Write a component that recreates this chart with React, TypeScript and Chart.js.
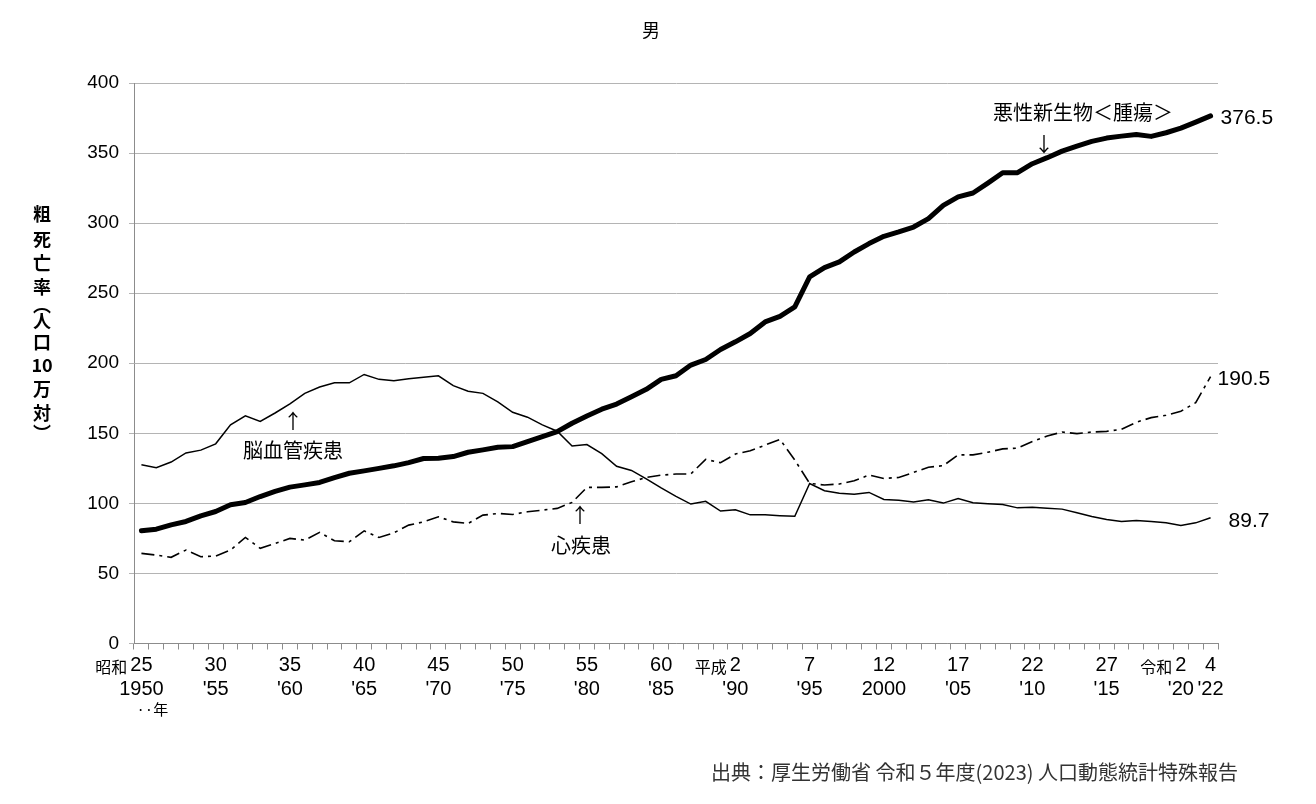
import React, { useEffect, useRef } from 'react';
import { Chart, registerables } from 'chart.js';

Chart.register(...registerables);

const years = [
  '1950', '1951', '1952', '1953', '1954', '1955', '1956', '1957', '1958', '1959',
  '1960', '1961', '1962', '1963', '1964', '1965', '1966', '1967', '1968', '1969',
  '1970', '1971', '1972', '1973', '1974', '1975', '1976', '1977', '1978', '1979',
  '1980', '1981', '1982', '1983', '1984', '1985', '1986', '1987', '1988', '1989',
  '1990', '1991', '1992', '1993', '1994', '1995', '1996', '1997', '1998', '1999',
  '2000', '2001', '2002', '2003', '2004', '2005', '2006', '2007', '2008', '2009',
  '2010', '2011', '2012', '2013', '2014', '2015', '2016', '2017', '2018', '2019',
  '2020', '2021', '2022',
];

// 悪性新生物＜腫瘍＞
const cancerRates = [
  80.4, 81.6, 84.7, 87.1, 91.1, 94.2, 99.0, 100.6, 104.9, 108.5,
  111.6, 113.2, 114.9, 118.4, 121.5, 123.2, 125.0, 126.8, 129.1, 132.0,
  132.2, 133.4, 136.5, 138.2, 140.1, 140.5, 144.1, 147.6, 151.2, 157.2,
  162.4, 167.2, 170.9, 176.1, 181.4, 188.5, 191.1, 198.7, 202.7, 209.8,
  215.3, 221.2, 229.5, 233.5, 240.2, 261.6, 268.3, 272.3, 279.4, 285.4,
  290.6, 293.7, 297.2, 303.2, 312.7, 318.7, 321.5, 328.6, 336.0, 336.0,
  342.4, 346.7, 351.4, 355.0, 358.3, 360.7, 362.1, 363.3, 361.9, 364.5,
  367.8, 372.1, 376.5,
];

// 脳血管疾患
const cerebroRates = [
  127.5, 125.5, 129.5, 136.0, 138.0, 142.5, 156.0, 162.5, 158.5, 164.5,
  171.0, 178.5, 183.0, 186.0, 186.0, 192.0, 188.5, 187.5, 189.0, 190.0,
  191.0, 184.0, 180.0, 178.5, 172.5, 165.0, 161.5, 156.0, 151.5, 141.0,
  142.0, 135.5, 126.5, 123.5, 117.5, 111.0, 105.0, 99.5, 101.5, 94.5,
  95.5, 91.8, 91.8, 91.2, 90.8, 114.2, 109.0, 107.3, 106.6, 107.8,
  102.8, 102.3, 100.9, 102.5, 100.2, 103.5, 100.4, 99.7, 99.2, 96.8,
  97.3, 96.6, 95.9, 93.3, 90.7, 88.5, 87.1, 87.8, 87.1, 86.1,
  84.2, 86.1, 89.7,
];

// 心疾患
const heartRates = [
  64.3, 63.1, 61.5, 66.7, 61.9, 62.4, 66.7, 75.7, 67.9, 71.4,
  75.0, 73.8, 79.3, 73.3, 72.6, 80.4, 75.7, 79.0, 84.5, 86.8,
  90.4, 86.8, 85.7, 91.6, 92.8, 92.1, 94.0, 95.2, 96.4, 100.7,
  111.4, 111.4, 111.8, 115.4, 118.5, 120.1, 121.0, 121.0, 131.4, 129.0,
  135.2, 137.5, 141.6, 145.7, 130.9, 114.3, 113.1, 113.8, 116.2, 120.2,
  117.8, 118.5, 122.1, 125.8, 126.9, 134.6, 134.6, 136.5, 138.9, 139.4,
  144.1, 148.1, 150.9, 149.8, 150.9, 151.4, 152.9, 157.9, 161.2, 162.9,
  165.7, 171.9, 190.5,
];

// x-axis tick labels
const tickYears = ['1950', '1955', '1960', '1965', '1970', '1975', '1980', '1985', '1990', '1995', '2000', '2005', '2010', '2015', '2020', '2022'];
const eraTickLabels = ['25', '30', '35', '40', '45', '50', '55', '60', '2', '7', '12', '17', '22', '27', '2', '4'];
const westernTickLabels = ['1950', "'55", "'60", "'65", "'70", "'75", "'80", "'85", "'90", "'95", '2000', "'05", "'10", "'15", "'20", "'22"];
const eraStartYears = ['1950', '1990', '2020'];
const eraNames = ['昭和', '平成', '令和'];
const yearUnitLabel = '··年';

const yTicks = { min: 0, max: 400, step: 50 };

const chartTitle = '男';
const yTitleChars = ['粗', '死', '亡', '率', '︵', '人', '口', '10', '万', '対', '︶'];
const seriesNames = ['悪性新生物＜腫瘍＞', '脳血管疾患', '心疾患'];
const sourceText = '出典：厚生労働省 令和５年度(2023) 人口動態統計特殊報告';

const CJK = "'Noto Sans CJK JP', 'Noto Sans', sans-serif";
const NUM = "'Liberation Sans', Arial, sans-serif";
const SANS = "'Liberation Sans', Arial, sans-serif";

const TICK_FONT_SIZE = 20;

const overlayPlugin = {
  id: 'overlay',
  afterDraw(chart: any) {
    const { ctx } = chart;
    const xs = chart.scales.x;
    const ys = chart.scales.y;
    ctx.save();
    ctx.fillStyle = '#000';

    // title
    ctx.font = `18px ${CJK}`;
    ctx.textAlign = 'center';
    ctx.textBaseline = 'middle';
    ctx.fillText(chartTitle, 643, 22);

    // vertical y-axis title
    const yTitlePos = [206, 231, 255, 279.5, 297, 313, 334, 357, 381, 405, 425];
    ctx.font = `bold 18px ${CJK}`;
    yTitleChars.forEach((c, i) => ctx.fillText(c, 34, yTitlePos[i]));

    // series annotations
    ctx.font = `20px ${CJK}`;
    ctx.fillText(seriesNames[0], 1075, 104);
    ctx.fillText('↓', 1036, 136);
    ctx.fillText(seriesNames[1], 285, 442);
    ctx.fillText('↑', 285, 413);
    ctx.fillText(seriesNames[2], 573, 537);
    ctx.fillText('↑', 572, 507);

    // end values
    ctx.font = `${TICK_FONT_SIZE + 1}px ${NUM}`;
    ctx.textAlign = 'left';
    const last = years.length - 1;
    const lx = xs.getPixelForValue(last);
    ctx.fillText(cancerRates[last].toFixed(1), lx + 10, ys.getPixelForValue(cancerRates[last]) + 2);
    ctx.fillText(heartRates[last].toFixed(1), lx + 7, ys.getPixelForValue(heartRates[last]) + 3);
    ctx.fillText(cerebroRates[last].toFixed(1), lx + 18, ys.getPixelForValue(cerebroRates[last]) + 3);

    // era prefixes on the x axis
    eraStartYears.forEach((yr, i) => {
      const idx = years.indexOf(yr);
      const k = tickYears.indexOf(yr);
      const px = xs.getPixelForValue(idx);
      ctx.font = `${TICK_FONT_SIZE}px ${NUM}`;
      const w = ctx.measureText(eraTickLabels[k]).width;
      ctx.font = `16px ${CJK}`;
      ctx.textAlign = 'right';
      ctx.textBaseline = 'alphabetic';
      ctx.fillText(eraNames[i], px - w / 2 - 3, xs.top + 29);
    });

    // year unit
    ctx.font = `15px ${CJK}`;
    ctx.textAlign = 'left';
    ctx.textBaseline = 'middle';
    ctx.fillText(yearUnitLabel, xs.getPixelForValue(0) - 5, xs.top + 66);

    // source
    ctx.font = `20px ${CJK}`;
    ctx.fillStyle = '#333';
    ctx.textAlign = 'right';
    ctx.fillText(sourceText, 1230, 764);
    ctx.restore();
  },
};

export default function App() {
  const canvasRef = useRef<HTMLCanvasElement | null>(null);

  useEffect(() => {
    if (!canvasRef.current) return;
    const chart = new Chart(canvasRef.current, {
      type: 'line',
      data: {
        labels: years,
        datasets: [
          {
            label: seriesNames[0],
            data: cancerRates,
            borderColor: '#000',
            borderWidth: 5,
            borderJoinStyle: 'round',
            borderCapStyle: 'round',
            pointRadius: 0,
            fill: false,
          },
          {
            label: seriesNames[1],
            data: cerebroRates,
            borderColor: '#000',
            borderWidth: 1.5,
            pointRadius: 0,
            fill: false,
          },
          {
            label: seriesNames[2],
            data: heartRates,
            borderColor: '#000',
            borderWidth: 1.6,
            borderDash: [13, 5, 3, 5],
            pointRadius: 0,
            fill: false,
          },
        ],
      },
      options: {
        responsive: false,
        animation: false,
        devicePixelRatio: 1,
        layout: { padding: { left: 0, right: 90, top: 75, bottom: 82.5 } },
        plugins: {
          legend: { display: false },
          title: { display: false },
          tooltip: { enabled: false },
        },
        elements: { line: { tension: 0 }, point: { radius: 0 } },
        scales: {
          x: {
            type: 'category',
            offset: true,
            grid: { offset: true, drawOnChartArea: false, drawTicks: true, tickLength: 6, color: '#8c8c8c' },
            border: { display: true, color: '#8c8c8c' },
            ticks: {
              autoSkip: false,
              maxRotation: 0,
              minRotation: 0,
              padding: 4,
              color: '#000',
              font: { family: NUM, size: TICK_FONT_SIZE, lineHeight: 1.2 },
              callback: (_v: any, idx: number) => {
                const k = tickYears.indexOf(years[idx]);
                return k >= 0 ? [eraTickLabels[k], westernTickLabels[k]] : '';
              },
            },
            afterFit: (s: any) => {
              s.height = 70;
            },
          },
          y: {
            min: yTicks.min,
            max: yTicks.max,
            ticks: {
              stepSize: yTicks.step,
              padding: 10,
              color: '#000',
              font: { family: SANS, size: 19 },
            },
            grid: { color: '#b4b4b4', tickLength: 5, drawTicks: true },
            border: { display: true, color: '#8c8c8c' },
            afterFit: (s: any) => {
              s.width = 126;
            },
          },
        },
      },
      plugins: [overlayPlugin],
    } as any);
    return () => chart.destroy();
  }, []);

  return <canvas ref={canvasRef} width={1300} height={788} style={{ display: 'block' }} />;
}
